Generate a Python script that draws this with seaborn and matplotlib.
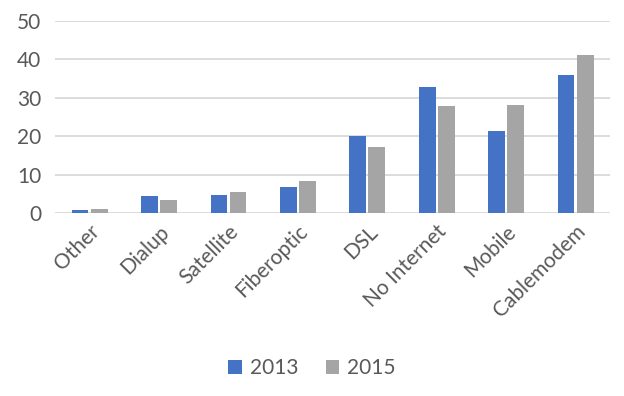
import pandas as pd
import seaborn as sns
import matplotlib.pyplot as plt

categories = ["Other", "Dialup", "Satellite", "Fiberoptic", "DSL",
              "No Internet", "Mobile", "Cablemodem"]
y2013 = [0.8, 4.4, 4.7, 6.8, 20.1, 32.9, 21.4, 36.0]
y2015 = [1.0, 3.4, 5.5, 8.4, 17.2, 27.9, 28.2, 41.2]

df = pd.DataFrame({
    "category": categories * 2,
    "value": y2013 + y2015,
    "year": ["2013"] * len(categories) + ["2015"] * len(categories),
})

sns.set_theme(style="white")
plt.rcParams["font.family"] = ["Lato", "DejaVu Sans"]

fig = plt.figure(figsize=(6.24, 3.96), dpi=100)
ax = fig.add_axes([0.088, 0.462, 0.89, 0.485])
sns.barplot(data=df, x="category", y="value", hue="year",
            palette=["#4472C4", "#A5A5A5"], width=0.55, gap=0.12,
            saturation=1, linewidth=0, ax=ax)

ax.set_ylim(0, 50)
ax.set_yticks(range(0, 51, 10))
ax.set_xlim(-0.5, len(categories) - 0.5)
ax.yaxis.grid(True, color="#D9D9D9", linewidth=1.3)
ax.set_axisbelow(True)
for s in ax.spines.values():
    s.set_visible(False)
ax.set_xlabel("")
ax.set_ylabel("")
ax.tick_params(axis="both", length=0, labelsize=15, colors="#595959")
ax.tick_params(axis="y", pad=10)
ax.tick_params(axis="x", pad=6)
plt.setp(ax.get_xticklabels(), rotation=45, ha="right", rotation_mode="anchor")

handles, labels = ax.get_legend_handles_labels()
ax.legend_.remove()
fig.legend(handles, labels, loc="center", bbox_to_anchor=(0.5, 0.07),
           ncol=2, frameon=False, fontsize=15, handlelength=0.65,
           handleheight=0.65, columnspacing=1.3, handletextpad=0.4,
           labelcolor="#595959")

fig.savefig("out.png", dpi=100)
